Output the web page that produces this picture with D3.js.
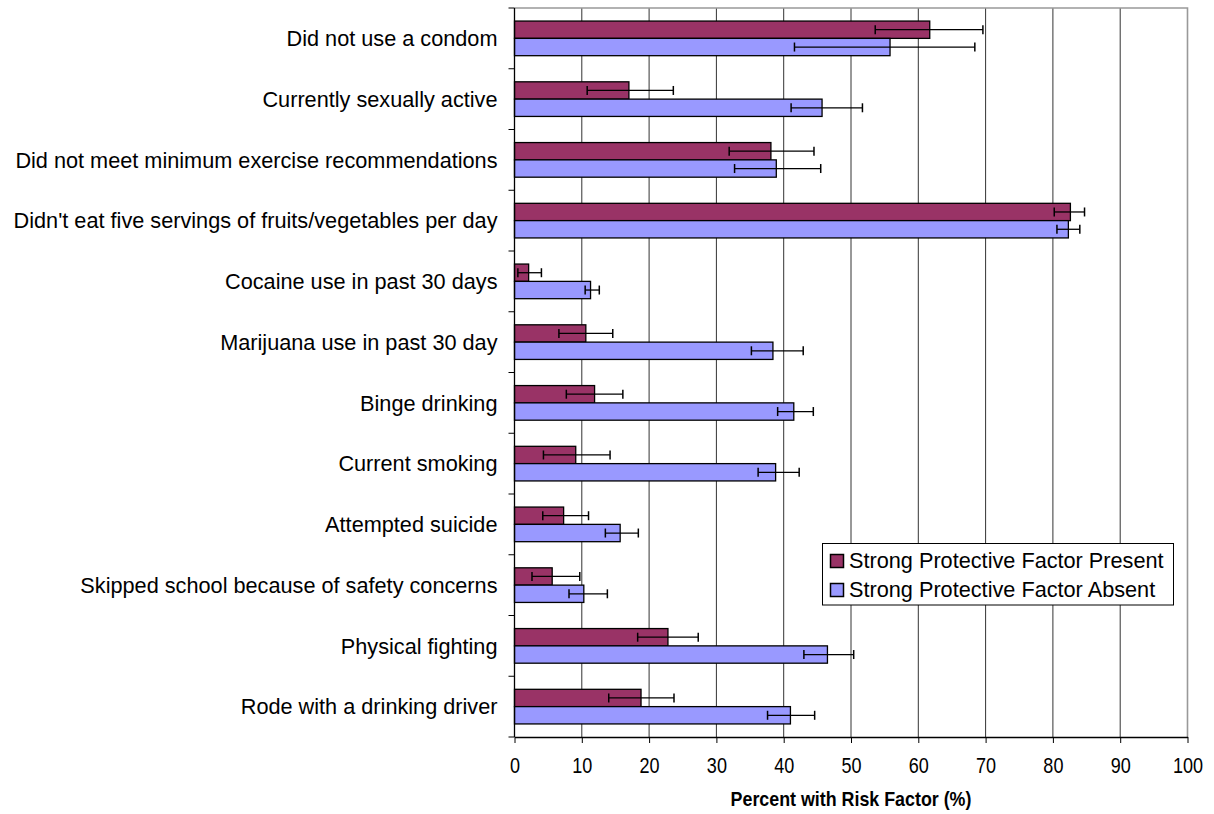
<!DOCTYPE html>
<html><head><meta charset="utf-8">
<script src="https://cdn.jsdelivr.net/npm/d3@7"></script>
<style>body{margin:0;background:#fff;}svg{display:block;font-family:"Liberation Sans",Arial,sans-serif;}</style>
</head><body>
<svg id="chart" width="1214" height="814"></svg>
<script>
const categories = ["Did not use a condom","Currently sexually active","Did not meet minimum exercise recommendations","Didn't eat five servings of fruits/vegetables per day","Cocaine use in past 30 days","Marijuana use in past 30 day","Binge drinking","Current smoking","Attempted suicide","Skipped school because of safety concerns","Physical fighting","Rode with a drinking driver"];
const seriesNames = ["Strong Protective Factor Present","Strong Protective Factor Absent"];
const presentValues = [61.7,17.0,38.1,82.6,2.1,10.6,11.9,9.1,7.3,5.6,22.8,18.8];
const presentLow    = [53.6,10.8,31.9,80.2,0.5,6.6,7.7,4.3,4.2,2.6,18.3,14.0];
const presentHigh   = [69.6,23.6,44.5,84.7,4.0,14.6,16.1,14.2,11.0,9.7,27.3,23.7];
const absentValues  = [55.8,45.7,38.9,82.3,11.3,38.4,41.5,38.8,15.7,10.3,46.5,41.0];
const absentLow     = [41.6,41.1,32.7,80.6,10.5,35.2,39.1,36.2,13.5,8.1,43.0,37.6];
const absentHigh    = [68.4,51.7,45.5,84.0,12.6,42.9,44.4,42.3,18.4,13.8,50.4,44.6];
const xTicks = [0,10,20,30,40,50,60,70,80,90,100];
const colors = ["#993366","#9999FF"];

const svg = d3.select("#chart");
const L = 514.5, R = 1187.5, T = 8, B = 737;
const x = d3.scaleLinear().domain([0,100]).range([L,R]);
const y = d3.scaleBand().domain(categories).range([T,B]).paddingInner(0.43).paddingOuter(0.215);
const sub = d3.scaleBand().domain([0,1]).range([0,y.bandwidth()]);

svg.append("g").selectAll("line").data(xTicks.slice(1,-1)).join("line")
  .attr("x1",d=>x(d)).attr("x2",d=>x(d)).attr("y1",T).attr("y2",B)
  .attr("stroke","#333").attr("stroke-width",1);
svg.append("path").attr("d",`M${L},${T}H${R}V${B}`).attr("fill","none").attr("stroke","#999").attr("stroke-width",1.6);

const data = categories.map((c,i)=>({c, s:[
  {v:presentValues[i],lo:presentLow[i],hi:presentHigh[i],k:0},
  {v:absentValues[i],lo:absentLow[i],hi:absentHigh[i],k:1}]}));

const g = svg.append("g").selectAll("g").data(data).join("g")
  .attr("transform",d=>`translate(0,${y(d.c)})`);
g.selectAll("rect").data(d=>d.s).join("rect")
  .attr("x",x(0)).attr("y",d=>sub(d.k)).attr("width",d=>x(d.v)-x(0)).attr("height",sub.bandwidth())
  .attr("fill",d=>colors[d.k]).attr("stroke","#000").attr("stroke-width",1.3);
const eb = g.selectAll("g.eb").data(d=>d.s).join("g").attr("class","eb")
  .attr("transform",d=>`translate(0,${sub(d.k)+sub.bandwidth()/2})`);
eb.append("line").attr("x1",d=>x(d.lo)).attr("x2",d=>x(d.hi)).attr("stroke","#000").attr("stroke-width",1.3);
eb.append("line").attr("x1",d=>x(d.lo)).attr("x2",d=>x(d.lo)).attr("y1",-4.5).attr("y2",4.5).attr("stroke","#000").attr("stroke-width",1.5);
eb.append("line").attr("x1",d=>x(d.hi)).attr("x2",d=>x(d.hi)).attr("y1",-4.5).attr("y2",4.5).attr("stroke","#000").attr("stroke-width",1.5);

const xa = svg.append("g").attr("transform",`translate(0,${B})`)
  .call(d3.axisBottom(x).tickValues(xTicks).tickSize(6).tickSizeOuter(0).tickPadding(5));
xa.select(".domain").attr("stroke","#000").attr("stroke-width",1.3);
xa.selectAll(".tick line").attr("stroke","#000");
xa.selectAll("text").attr("font-size",22).attr("y",null).attr("dy",null)
  .attr("transform","translate(0,35.5) scale(0.82,1)")
  .attr("font-family","Liberation Sans, Arial, sans-serif").attr("fill","#000");

const step = (B-T)/categories.length;
const bounds = d3.range(categories.length+1).map(i=>T+i*step);
svg.append("line").attr("x1",L).attr("x2",L).attr("y1",T).attr("y2",B).attr("stroke","#000").attr("stroke-width",1.3);
svg.append("g").selectAll("line").data(bounds).join("line")
  .attr("x1",L-6).attr("x2",L).attr("y1",d=>d).attr("y2",d=>d).attr("stroke","#000");
svg.append("g").selectAll("text").data(categories).join("text")
  .attr("x",497.5).attr("y",d=>y(d)+y.bandwidth()/2).attr("dy","0.36em")
  .attr("text-anchor","end").attr("font-size",21.7).attr("fill","#000").text(d=>d);

svg.append("text").attr("transform",`translate(${(L+R)/2},806) scale(0.85,1)`).attr("text-anchor","middle")
  .attr("font-size",21).attr("font-weight","bold").text("Percent with Risk Factor (%)");

const lg = svg.append("g").attr("transform","translate(822.5,543.5)");
lg.append("rect").attr("width",351).attr("height",61.5).attr("fill","#fff").attr("stroke","#000").attr("stroke-width",1);
seriesNames.forEach((n,i)=>{
  lg.append("rect").attr("x",8).attr("y",11+i*29).attr("width",13).attr("height",13)
    .attr("fill",colors[i]).attr("stroke","#000").attr("stroke-width",1.5);
  lg.append("text").attr("x",26.5).attr("y",24.5+i*29).attr("font-size",21.7).text(n);
});
</script>
</body></html>
